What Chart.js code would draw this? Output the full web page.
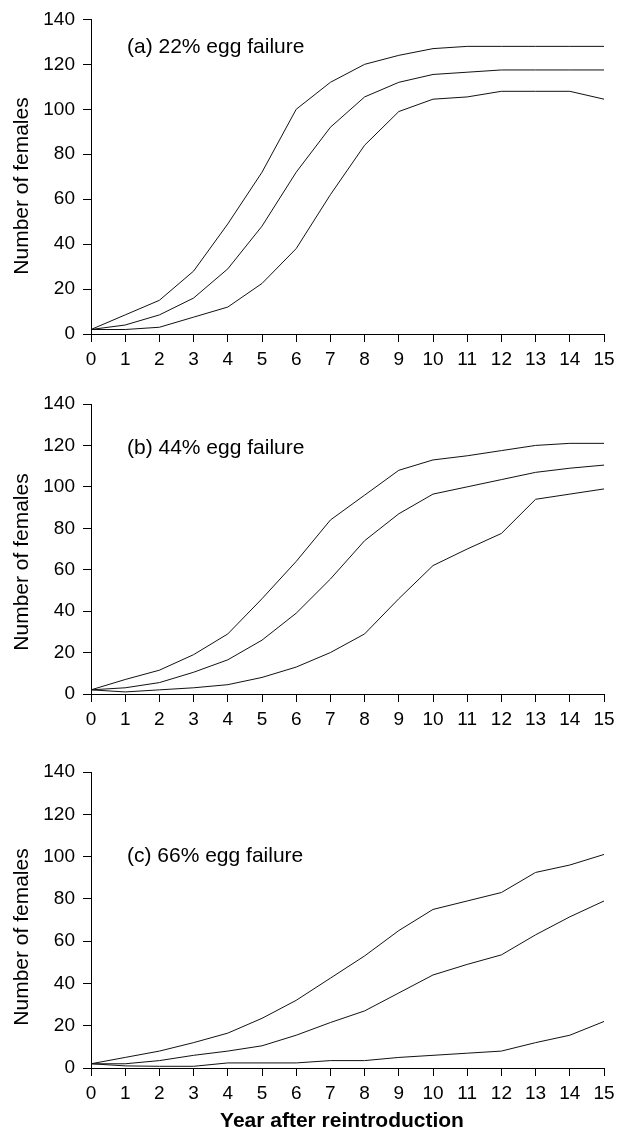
<!DOCTYPE html>
<html>
<head>
<meta charset="utf-8">
<script src="https://cdn.jsdelivr.net/npm/chart.js@4.4.1/dist/chart.umd.min.js"></script>
<style>
  body { margin: 0; background: #fff; width: 627px; height: 1131px; position: relative; overflow: hidden; }
  canvas { position: absolute; left: 0; }
</style>
</head>
<body>
<canvas id="panelA" width="627" height="374" style="top:0px"></canvas>
<canvas id="panelB" width="627" height="354" style="top:380px"></canvas>
<canvas id="panelC" width="627" height="391" style="top:740px"></canvas>
<script>
const years = [0, 1, 2, 3, 4, 5, 6, 7, 8, 9, 10, 11, 12, 13, 14, 15];
const yTicks = [0, 20, 40, 60, 80, 100, 120, 140];

// (a) 22% egg failure
const a22High = [2, 8.5, 15, 28, 49, 72, 100, 112, 120, 124, 127, 128, 128, 128, 128, 128];
const a22Mid  = [2, 4, 8.5, 16, 29, 48, 72, 92, 105.5, 112, 115.5, 116.5, 117.5, 117.5, 117.5, 117.5];
const a22Low  = [2, 2, 3, 7.5, 12, 22.5, 38, 62, 84, 99, 104.5, 105.5, 108, 108, 108, 104.5];

// (b) 44% egg failure
const b44High = [2, 7, 11.5, 19, 29, 46, 64, 84, 96, 108, 113, 115, 117.5, 120, 121, 121];
const b44Mid  = [2, 3, 5.5, 10.5, 16.5, 26, 39, 55.5, 74, 87, 96.5, 100, 103.5, 107, 109, 110.5];
const b44Low  = [2, 1, 2, 3, 4.5, 8, 13, 20, 29, 46, 62, 70, 77.5, 94, 96.5, 99];

// (c) 66% egg failure
const c66High = [2, 5, 8, 12, 16.5, 23.5, 32, 42.5, 53, 65, 75, 79, 83, 92.5, 96, 101];
const c66Mid  = [2, 2, 3.5, 6, 8, 10.5, 15.5, 21.5, 27, 35.5, 44, 49, 53.5, 63, 71.5, 79];
const c66Low  = [2, 1, 0.8, 0.8, 2.4, 2.4, 2.4, 3.5, 3.5, 5, 6, 7, 8, 12, 15.5, 22];

const yTitle = "Number of females";
const xTitle = "Year after reintroduction";

const fontFamily = "'Liberation Sans', Arial, Helvetica, sans-serif";

function textPlugin(texts) {
  return {
    id: "panelText",
    afterDraw(chart) {
      const c = chart.ctx;
      c.save();
      c.fillStyle = "#000";
      texts.forEach(t => {
        c.save();
        c.font = (t.bold ? "bold " : "") + t.size + "px " + fontFamily;
        c.textAlign = t.align || "left";
        c.textBaseline = t.baseline || "alphabetic";
        c.translate(t.x, t.y);
        if (t.rotate) c.rotate(t.rotate);
        c.fillText(t.text, 0, 0);
        c.restore();
      });
      c.restore();
    }
  };
}

function makePanel(id, series, topPad, bottomH, texts) {
  new Chart(document.getElementById(id), {
    type: "line",
    data: {
      labels: years,
      datasets: series.map(s => ({
        data: s,
        borderColor: "#111",
        borderWidth: 1,
        pointRadius: 0,
        tension: 0,
        fill: false
      }))
    },
    options: {
      responsive: false,
      animation: false,
      layout: { padding: { top: topPad, right: 23, left: 0, bottom: 0 } },
      plugins: { legend: { display: false }, tooltip: { enabled: false } },
      scales: {
        x: {
          offset: false,
          grid: { display: true, drawOnChartArea: false, drawTicks: true, tickLength: 8, color: "#000" },
          border: { display: true, color: "#000", width: 1 },
          ticks: { color: "#000", padding: 6, maxRotation: 0, autoSkip: false, font: { family: fontFamily, size: 19 } },
          afterFit: s => { s.height = bottomH; }
        },
        y: {
          min: 0,
          max: 140,
          afterBuildTicks: s => { s.ticks = yTicks.map(v => ({ value: v })); },
          grid: { display: true, drawOnChartArea: false, drawTicks: true, tickLength: 8, color: "#000" },
          border: { display: true, color: "#000", width: 1 },
          ticks: { color: "#000", padding: 8, font: { family: fontFamily, size: 19 } },
          afterFit: s => { s.width = 91; }
        }
      }
    },
    plugins: [textPlugin(texts)]
  });
}

makePanel("panelA", [a22High, a22Mid, a22Low], 16, 40, [
  { text: "(a) 22% egg failure", x: 127, y: 53, size: 21 },
  { text: yTitle, x: 28, y: 186, size: 21, align: "center", rotate: -Math.PI / 2 }
]);
makePanel("panelB", [b44High, b44Mid, b44Low], 24, 40, [
  { text: "(b) 44% egg failure", x: 127, y: 74, size: 21 },
  { text: yTitle, x: 28, y: 182, size: 21, align: "center", rotate: -Math.PI / 2 }
]);
makePanel("panelC", [c66High, c66Mid, c66Low], 32, 63, [
  { text: "(c) 66% egg failure", x: 127, y: 122, size: 21 },
  { text: yTitle, x: 28, y: 197, size: 21, align: "center", rotate: -Math.PI / 2 },
  { text: xTitle, x: 342, y: 387, size: 21, bold: true, align: "center" }
]);
</script>
</body>
</html>
